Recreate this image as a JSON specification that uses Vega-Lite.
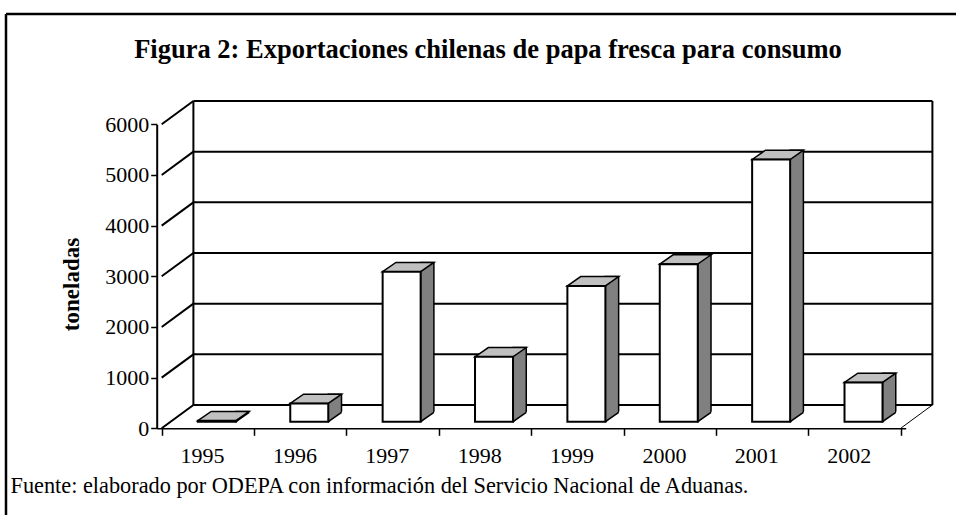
{
  "$schema": "https://vega.github.io/schema/vega-lite/v6.json",
  "width": 950,
  "height": 501,
  "autosize": {"type": "none"},
  "padding": {"left": 6, "top": 14, "right": 0, "bottom": 0},
  "background": "white",
  "title": {
    "text": "Figura 2: Exportaciones chilenas de papa fresca para consumo",
    "anchor": "middle",
    "frame": "group",
    "offset": -49,
    "dx": 7,
    "font": "Liberation Serif",
    "fontSize": 26.5,
    "fontWeight": "bold",
    "color": "black"
  },
  "config": {
    "view": {"stroke": "black", "strokeWidth": 2.5, "strokeDash": [950, 1451, 501, 0]},
    "font": "Liberation Serif"
  },
  "datasets": {
    "exp": [
      {"year": 1995, "toneladas": 20},
      {"year": 1996, "toneladas": 360},
      {"year": 1997, "toneladas": 2960},
      {"year": 1998, "toneladas": 1280},
      {"year": 1999, "toneladas": 2680},
      {"year": 2000, "toneladas": 3110},
      {"year": 2001, "toneladas": 5175},
      {"year": 2002, "toneladas": 775}
    ],
    "grid": [
      {"v": 0}, {"v": 1000}, {"v": 2000}, {"v": 3000}, {"v": 4000}, {"v": 5000}, {"v": 6000}
    ],
    "edges": [{"edge": 1994.5}, {"edge": 2002.5}]
  },
  "layer": [
    {
      "data": {"name": "grid"},
      "mark": {"type": "rule", "color": "black", "strokeWidth": 2, "xOffset": 31.7, "x2Offset": 31.7, "yOffset": -23.3},
      "encoding": {
        "x": {
          "datum": 1994.5,
          "type": "quantitative",
          "scale": {"domain": [1994.5, 2002.5], "range": [150.7, 899.7], "nice": false, "zero": false},
          "axis": {
            "values": [1994.5, 1995.5, 1996.5, 1997.5, 1998.5, 1999.5, 2000.5, 2001.5, 2002.5],
            "labelExpr": "datum.value < 1995 ? '' : format(datum.value - 0.5, 'd')",
            "labelOffset": -52,
            "labelOverlap": false,
            "labelFlush": false,
            "labelFont": "Liberation Serif",
            "labelFontSize": 22,
            "labelColor": "black",
            "labelPadding": 10,
            "tickSize": 7,
            "tickColor": "black",
            "tickWidth": 1.5,
            "domainColor": "black",
            "domainWidth": 1.5,
            "grid": false,
            "offset": -86.7,
            "title": "Fuente: elaborado por ODEPA con información del Servicio Nacional de Aduanas.",
            "titleFont": "Liberation Serif",
            "titleFontSize": 22.3,
            "titleFontWeight": "normal",
            "titleColor": "black",
            "titleX": 4,
            "titleY": 64,
            "titleAlign": "left",
            "titleAnchor": "start",
            "titleBaseline": "alphabetic"
          }
        },
        "x2": {"datum": 2002.5},
        "y": {
          "field": "v",
          "type": "quantitative",
          "scale": {"domain": [0, 6000], "range": [414.3, 110.3], "nice": false, "zero": false},
          "axis": {
            "values": [0, 1000, 2000, 3000, 4000, 5000, 6000],
            "format": "d",
            "offset": -150.7,
            "labelFont": "Liberation Serif",
            "labelFontSize": 22,
            "labelColor": "black",
            "labelPadding": 2,
            "labelFlush": false,
            "tickSize": 6,
            "tickColor": "black",
            "tickWidth": 1.5,
            "domainColor": "black",
            "domainWidth": 2,
            "grid": false,
            "title": "toneladas",
            "titleFont": "Liberation Serif",
            "titleFontWeight": "bold",
            "titleFontSize": 23,
            "titleColor": "black",
            "titlePadding": 21,
            "titleY": 270
          }
        }
      }
    },
    {
      "data": {"name": "grid"},
      "mark": {"type": "rule", "color": "black", "strokeWidth": 2, "x2Offset": 31.7, "y2Offset": -23.3},
      "encoding": {
        "x": {"datum": 1994.5, "type": "quantitative"},
        "x2": {"datum": 1994.5},
        "y": {"field": "v", "type": "quantitative"},
        "y2": {"field": "v"}
      }
    },
    {
      "data": {"name": "edges"},
      "mark": {"type": "rule", "color": "black", "strokeWidth": 2, "xOffset": 31.7, "yOffset": -23.3, "y2Offset": -23.3},
      "encoding": {
        "x": {"field": "edge", "type": "quantitative"},
        "y": {"datum": 0, "type": "quantitative"},
        "y2": {"datum": 6000}
      }
    },
    {
      "data": {"name": "edges"},
      "mark": {"type": "rule", "color": "black", "strokeWidth": 1, "x2Offset": 31.7, "y2Offset": -23.3},
      "encoding": {
        "x": {"field": "edge", "type": "quantitative"},
        "x2": {"field": "edge"},
        "y": {"datum": 0, "type": "quantitative"},
        "y2": {"datum": 0}
      }
    },
    {
      "data": {"name": "exp"},
      "mark": {"type": "bar", "color": "#808080", "stroke": "black", "strokeWidth": 1.5, "width": 13.3, "xOffset": 34.6, "yOffset": -15.9, "y2Offset": -6.6},
      "encoding": {
        "x": {"field": "year", "type": "quantitative"},
        "y": {"field": "toneladas", "type": "quantitative"},
        "y2": {"datum": 0}
      }
    },
    {
      "data": {"name": "exp"},
      "mark": {"type": "point", "shape": "M-0.906,0.719L0.906,0.719L0.906,-0.719Z", "size": 256, "filled": true, "color": "white", "stroke": "white", "strokeWidth": 1.5, "opacity": 1, "xOffset": 35.75, "yOffset": -10.85},
      "encoding": {
        "x": {"field": "year", "type": "quantitative"},
        "y": {"datum": 0, "type": "quantitative"}
      }
    },
    {
      "data": {"name": "exp"},
      "mark": {"type": "rule", "color": "black", "strokeWidth": 1.5, "xOffset": 28, "x2Offset": 41.3, "yOffset": -6.6, "y2Offset": -15.9},
      "encoding": {
        "x": {"field": "year", "type": "quantitative"},
        "x2": {"field": "year"},
        "y": {"datum": 0, "type": "quantitative"},
        "y2": {"datum": 0}
      }
    },
    {
      "data": {"name": "exp"},
      "mark": {"type": "point", "shape": "M-1,0.181L-0.481,-0.181L1,-0.181L0.481,0.181Z", "size": 2632, "filled": true, "color": "#c0c0c0", "stroke": "black", "strokeWidth": 1.5, "opacity": 1, "xOffset": 15.65, "yOffset": -11.25},
      "encoding": {
        "x": {"field": "year", "type": "quantitative"},
        "y": {"field": "toneladas", "type": "quantitative"}
      }
    },
    {
      "data": {"name": "exp"},
      "mark": {"type": "bar", "color": "white", "stroke": "black", "strokeWidth": 2, "width": 38, "xOffset": 9, "yOffset": -6.6, "y2Offset": -6.6},
      "encoding": {
        "x": {"field": "year", "type": "quantitative"},
        "y": {"field": "toneladas", "type": "quantitative"},
        "y2": {"datum": 0}
      }
    }
  ]
}
